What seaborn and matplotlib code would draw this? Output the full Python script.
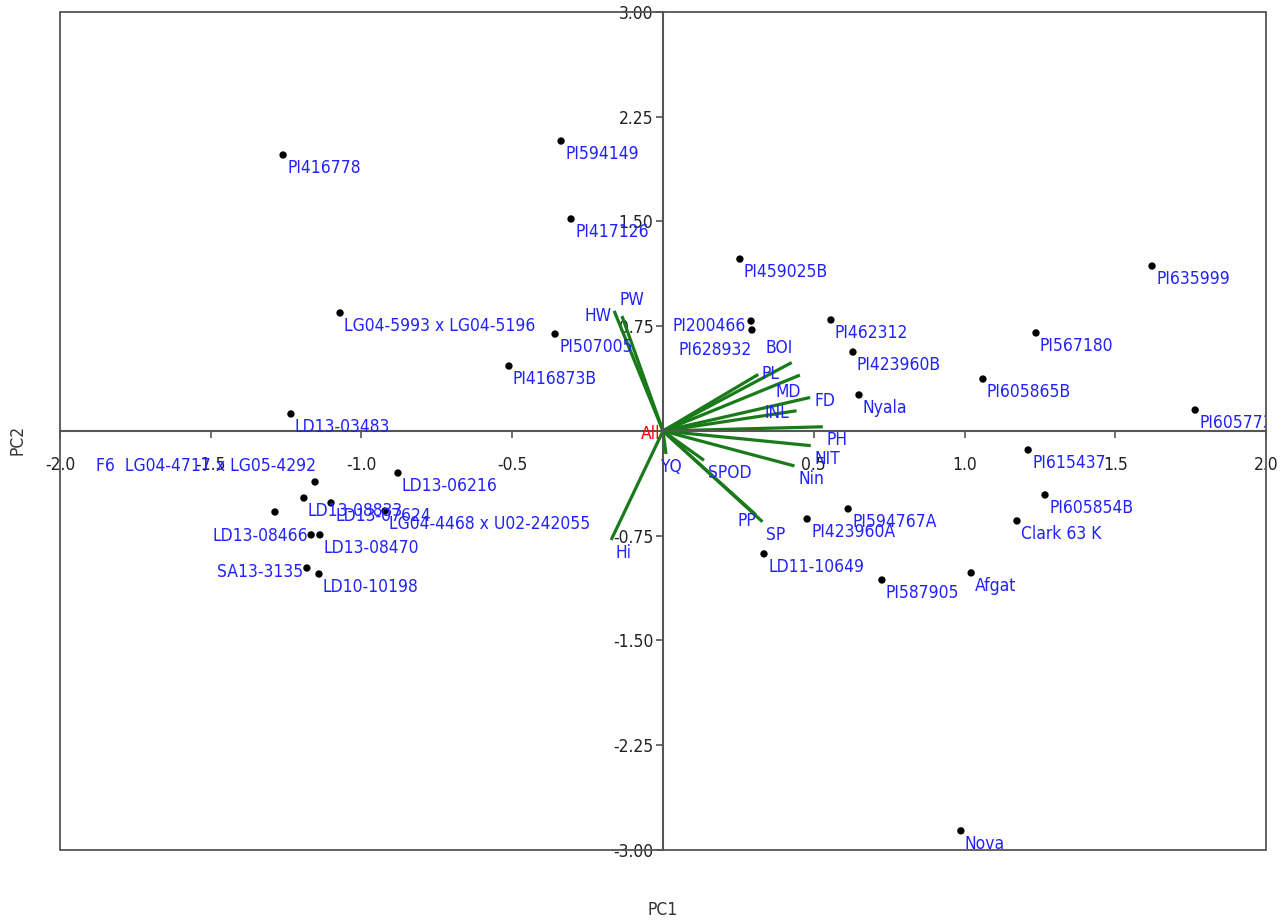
import matplotlib
matplotlib.use("Agg")
import matplotlib.pyplot as plt
import matplotlib.patches as mpatches
from matplotlib import font_manager
import pandas as pd
import seaborn as sns

# genotype scores
genotypes = ["PI416778", "PI594149", "PI417126", "PI459025B", "PI635999", "PI200466",
             "PI628932", "LG04-5993 x LG04-5196", "PI507005", "PI416873B", "PI462312",
             "PI423960B", "PI567180", "PI605865B", "Nyala", "PI605773", "LD13-03483",
             "PI615437", "PI605854B", "Clark 63 K", "PI594767A", "PI423960A", "LD11-10649",
             "PI587905", "Afgat", "Nova", "LD13-06216", "F6  LG04-4717 x LG05-4292",
             "LD13-08833", "LD13-07624", "LG04-4468 x U02-242055", "", "LD13-08466",
             "LD13-08470", "SA13-3135", "LD10-10198"]
pc1 = [-1.260, -0.338, -0.305, 0.255, 1.622, 0.292, 0.295, -1.071, -0.358, -0.511, 0.557,
       0.630, 1.237, 1.061, 0.650, 1.765, -1.234, 1.211, 1.267, 1.174, 0.614, 0.478, 0.335,
       0.726, 1.022, 0.988, -0.879, -1.154, -1.191, -1.101, -0.922, -1.287, -1.167,
       -1.138, -1.181, -1.141]
pc2 = [1.976, 2.076, 1.518, 1.231, 1.181, 0.787, 0.723, 0.845, 0.694, 0.465, 0.795,
       0.565, 0.702, 0.372, 0.258, 0.150, 0.122, -0.136, -0.458, -0.644, -0.558, -0.630,
       -0.880, -1.067, -1.016, -2.863, -0.301, -0.365, -0.480, -0.515, -0.573, -0.580,
       -0.744, -0.744, -0.981, -1.024]

# trait vectors
traits = ["HW", "PW", "Hi", "BOI", "PL", "MD", "FD", "INL", "PH", "NIT", "Nin",
          "SPOD", "SP", "PP", "YQ"]
trait_pc1 = [-0.162, -0.136, -0.172, 0.427, 0.316, 0.454, 0.488, 0.443, 0.530, 0.490,
             0.436, 0.136, 0.330, 0.308, 0.010]
trait_pc2 = [0.860, 0.823, -0.780, 0.490, 0.405, 0.400, 0.240, 0.145, 0.030, -0.105,
             -0.250, -0.210, -0.650, -0.600, -0.165]

xticks = [-2.0, -1.5, -1.0, -0.5, 0.5, 1.0, 1.5, 2.0]
yticks = [-3.0, -2.25, -1.5, -0.75, 0.75, 1.5, 2.25, 3.0]

sns.set_style("white")
plt.rcParams["font.family"] = ["DejaVu Sans"]
# narrower glyphs if the condensed face is around
has_condensed = any(f.name == "DejaVu Sans" and f.stretch == "condensed"
                    for f in font_manager.fontManager.ttflist)
if has_condensed:
    plt.rcParams["font.stretch"] = "condensed"
    fs = 12.5
else:
    fs = 11.5

scores = pd.DataFrame({"name": genotypes, "PC1": pc1, "PC2": pc2})

fig = plt.figure(figsize=(12.84, 9.22), dpi=100)
ax = fig.add_axes([0.0467, 0.0781, 0.9393, 0.9089])

ax.set_xlim(-2, 2)
ax.set_ylim(-3, 3)

# trait vectors
for name, x, y in zip(traits, trait_pc1, trait_pc2):
    ax.plot([0, x], [0, y], color="#1a7a1a", lw=2.3, solid_capstyle="butt", zorder=2)

sns.scatterplot(data=scores, x="PC1", y="PC2", color="black", s=28, edgecolor="none",
                ax=ax, zorder=3, legend=False)

px = 0.72  # pixel -> points
blue = "#2222ff"

# label tweaks: (ha, dx px, dy px downward)
point_adj = {
    "PI200466": ("right", -5, 5),
    "PI628932": ("right", 0, 20),
    "LD13-08466": ("right", -3, 1),
    "SA13-3135": ("right", -4, 4),
    "F6  LG04-4717 x LG05-4292": ("right", 1, -16),
}
trait_adj = {
    "HW": ("right", -3, 5),
    "PW": ("left", -2, -16),
    "BOI": ("left", -26, -15),
    "PL": ("left", 3, 0),
    "MD": ("left", -24, 17),
    "FD": ("left", 4, 4),
    "INL": ("left", -32, 2),
    "PP": ("left", -18, 6),
    "YQ": ("left", -6, 13),
}

def put_label(name, x, y, adj):
    ha, dx, dy = adj.get(name, ("left", 4, 13))
    ax.annotate(name, (x, y), xytext=(dx * px, -dy * px), textcoords="offset points",
                ha=ha, va="center", color=blue, fontsize=fs, annotation_clip=False,
                clip_on=True, zorder=4)

for name, x, y in zip(genotypes, pc1, pc2):
    if name:
        put_label(name, x, y, point_adj)
for name, x, y in zip(traits, trait_pc1, trait_pc2):
    put_label(name, x, y, trait_adj)

ax.annotate("All", (0, 0), xytext=(-3 * px, -3 * px), textcoords="offset points",
            ha="right", va="center", color="red", fontsize=fs, zorder=4)

# axes crossing at origin
for side in ["top", "right"]:
    ax.spines[side].set_visible(False)
ax.spines["left"].set_position("zero")
ax.spines["bottom"].set_position("zero")
for side in ["left", "bottom"]:
    ax.spines[side].set_color("#555555")
    ax.spines[side].set_linewidth(1.5)
ax.add_patch(mpatches.Rectangle((0, 0), 1, 1, transform=ax.transAxes, fill=False,
                                edgecolor="#555555", lw=1.3, zorder=5, clip_on=False))

ax.set_xticks(xticks)
ax.set_xticklabels([f"{t:.1f}" for t in xticks])
ax.set_yticks(yticks)
ax.set_yticklabels([f"{t:.2f}" for t in yticks])
ax.tick_params(axis="x", direction="out", length=5, width=1.2, color="#555555",
               pad=13, labelsize=fs, labelcolor="#222222", bottom=True)
ax.tick_params(axis="y", direction="out", length=5, width=1.2, color="#555555",
               pad=2, labelsize=fs, labelcolor="#222222", left=True)
ax.set_xlabel("")
ax.set_ylabel("")

fig.text(663 / 1284, 1 - 910 / 922, "PC1", ha="center", va="center", fontsize=fs,
         color="#333333")
fig.text(18 / 1284, 1 - 440 / 922, "PC2", ha="center", va="center", rotation=90,
         fontsize=fs, color="#333333")

fig.savefig("out.png", dpi=100)
